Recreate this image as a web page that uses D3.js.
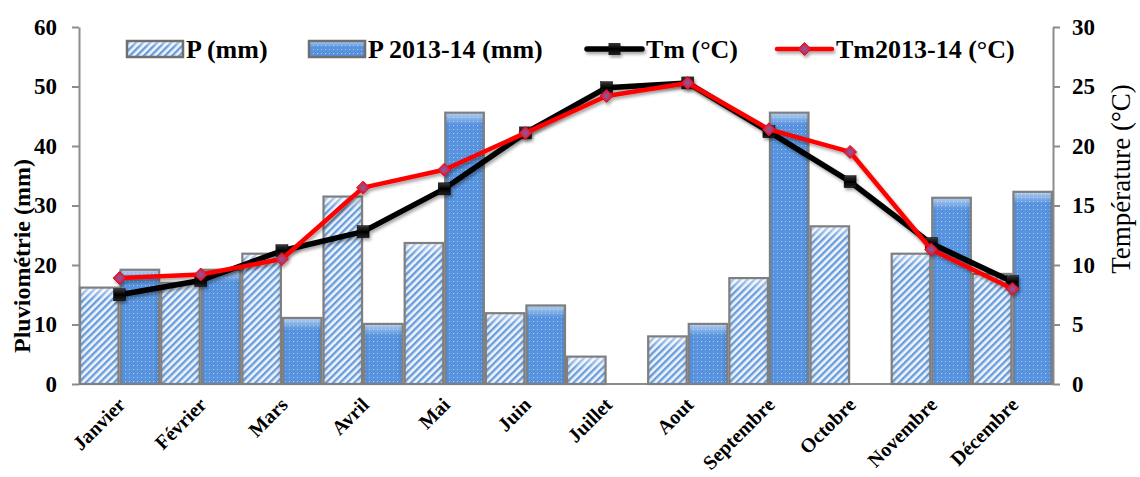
<!DOCTYPE html>
<html><head><meta charset="utf-8">
<script src="https://cdn.jsdelivr.net/npm/d3@7"></script>
<style>
html,body{margin:0;padding:0;background:#fff;}
svg{display:block;}
text{font-family:"Times New Roman","Liberation Serif",serif;}
</style></head><body>
<svg id="chart" width="1140" height="477"></svg>
<script>
const months = ["Janvier","Février","Mars","Avril","Mai","Juin","Juillet","Aout","Septembre","Octobre","Novembre","Décembre"];
const P      = [16.2, 17.0, 21.9, 31.5, 23.7, 11.9, 4.6, 8.0, 17.8, 26.5, 21.9, 18.5];
const P2013  = [19.2, 19.2, 11.1, 10.1, 45.6, 13.2, 0, 10.1, 45.6, 0, 31.3, 32.3];
const Tm     = [7.5, 8.7, 11.2, 12.8, 16.4, 21.1, 24.9, 25.3, 21.2, 17.0, 11.8, 8.6];
const Tm2013 = [8.9, 9.2, 10.5, 16.5, 18.0, 21.1, 24.2, 25.3, 21.4, 19.5, 11.3, 8.0];
const leftTicks = [0,10,20,30,40,50,60];
const rightTicks = [0,5,10,15,20,25,30];
const legendLabels = ["P (mm)","P 2013-14 (mm)","Tm (°C)","Tm2013-14 (°C)"];

const svg = d3.select("#chart");
const L = 79, R = 1053, T = 27, B = 384;
const x = d3.scaleBand().domain(months).range([L, R]).padding(0);
const xs = d3.scaleBand().domain(["P","P2013"]).range([0, x.bandwidth()]).padding(0);
const yL = d3.scaleLinear().domain([0,60]).range([B, T]);
const yR = d3.scaleLinear().domain([0,30]).range([B, T]);

const defs = svg.append("defs");
const hp = defs.append("pattern").attr("id","hatch").attr("patternUnits","userSpaceOnUse")
  .attr("width",5).attr("height",5).attr("patternTransform","rotate(45)");
hp.append("rect").attr("width",5).attr("height",5).attr("fill","#f0f5fc");
hp.append("rect").attr("width",2.4).attr("height",5).attr("fill","#6a9ddb");
const dp = defs.append("pattern").attr("id","dots").attr("patternUnits","userSpaceOnUse")
  .attr("width",4).attr("height",4);
dp.append("rect").attr("width",4).attr("height",4).attr("fill","#5793de");
dp.append("rect").attr("x",1).attr("y",1).attr("width",1).attr("height",1).attr("fill","#abcaf1");
const tg = defs.append("linearGradient").attr("id","topg").attr("x1",0).attr("y1",0).attr("x2",0).attr("y2",1);
tg.append("stop").attr("offset","0%").attr("stop-color","#fff").attr("stop-opacity",0.55);
tg.append("stop").attr("offset","100%").attr("stop-color","#fff").attr("stop-opacity",0);
const sg = defs.append("linearGradient").attr("id","sideg").attr("x1",0).attr("y1",0).attr("x2",1).attr("y2",0);
sg.append("stop").attr("offset","0%").attr("stop-color","#000").attr("stop-opacity",0.08);
sg.append("stop").attr("offset","12%").attr("stop-color","#000").attr("stop-opacity",0);
sg.append("stop").attr("offset","88%").attr("stop-color","#000").attr("stop-opacity",0);
sg.append("stop").attr("offset","100%").attr("stop-color","#000").attr("stop-opacity",0.12);
const rg = defs.append("radialGradient").attr("id","diag");
rg.append("stop").attr("offset","0%").attr("stop-color","#7a5fb0");
rg.append("stop").attr("offset","45%").attr("stop-color","#b83a6a");
rg.append("stop").attr("offset","100%").attr("stop-color","#e8101a");
const qg = defs.append("linearGradient").attr("id","sqg").attr("x1",0).attr("y1",0).attr("x2",0).attr("y2",1);
qg.append("stop").attr("offset","0%").attr("stop-color","#3a3a3a");
qg.append("stop").attr("offset","50%").attr("stop-color","#000");
qg.append("stop").attr("offset","100%").attr("stop-color","#222");
const f = defs.append("filter").attr("id","shadow").attr("x","-10%").attr("y","-10%").attr("width","130%").attr("height","140%");
f.append("feDropShadow").attr("dx",1.5).attr("dy",2.5).attr("stdDeviation",1.6).attr("flood-color","#000").attr("flood-opacity",0.35);

const axisColor = "#8c8c8c";
const gL = svg.append("g").attr("transform",`translate(${L},0)`)
  .call(d3.axisLeft(yL).tickValues(leftTicks).tickSize(7).tickPadding(15).tickSizeOuter(0));
const gR = svg.append("g").attr("transform",`translate(${R},0)`)
  .call(d3.axisRight(yR).tickValues(rightTicks).tickSize(7).tickPadding(12).tickSizeOuter(0));
[gL,gR].forEach(g=>{
  g.select(".domain").attr("stroke",axisColor).attr("stroke-width",2);
  g.selectAll(".tick line").attr("stroke",axisColor).attr("stroke-width",2);
  g.selectAll(".tick text").attr("font-size",23).attr("font-weight","bold").attr("fill","#000")
   .attr("font-family",'"Times New Roman","Liberation Serif",serif');
});
svg.append("line").attr("x1",L).attr("x2",R).attr("y1",B).attr("y2",B).attr("stroke",axisColor).attr("stroke-width",2);

const series = [{key:"P", vals:P, fill:"url(#hatch)"},{key:"P2013", vals:P2013, fill:"url(#dots)"}];
const gb = svg.append("g");
series.forEach(s=>{
  months.forEach((m,i)=>{
    const v = s.vals[i];
    if(!v) return;
    const x0 = x(m)+xs(s.key), w = xs.bandwidth(), y0 = yL(v), h = B - y0;
    const g = gb.append("g");
    g.append("rect").attr("x",x0+1).attr("y",y0).attr("width",w-2).attr("height",h).attr("fill",s.fill);
    g.append("rect").attr("x",x0+1).attr("y",y0).attr("width",w-2).attr("height",h).attr("fill","url(#sideg)");
    g.append("rect").attr("x",x0+1).attr("y",y0).attr("width",w-2).attr("height",Math.min(12,h)).attr("fill","url(#topg)");
    g.append("rect").attr("x",x0+1).attr("y",y0).attr("width",w-2).attr("height",h)
      .attr("fill","none").attr("stroke","#7f7f7f").attr("stroke-width",2.2);
  });
});

const cx = m => x(m) + x.bandwidth()/2;
const line = d3.line().x((d,i)=>cx(months[i])).y(d=>yR(d));
const gl = svg.append("g").attr("filter","url(#shadow)");
gl.append("path").datum(Tm).attr("d",line).attr("fill","none").attr("stroke","#000").attr("stroke-width",5.5).attr("stroke-linejoin","round");
gl.selectAll(".sq").data(Tm).join("rect").attr("class","sq")
  .attr("x",(d,i)=>cx(months[i])-6).attr("y",d=>yR(d)-6).attr("width",12).attr("height",12)
  .attr("fill","url(#sqg)").attr("stroke","#000").attr("stroke-width",0.5);
const gl2 = svg.append("g").attr("filter","url(#shadow)");
gl2.append("path").datum(Tm2013).attr("d",line).attr("fill","none").attr("stroke","#ff0000").attr("stroke-width",4.5).attr("stroke-linejoin","round");
const diamond = (cxv,cyv,r)=>`M${cxv},${cyv-r}L${cxv+r},${cyv}L${cxv},${cyv+r}L${cxv-r},${cyv}Z`;
gl2.selectAll(".dm").data(Tm2013).join("path").attr("class","dm")
  .attr("d",(d,i)=>diamond(cx(months[i]),yR(d),6.5)).attr("fill","url(#diag)").attr("stroke","#e0101a").attr("stroke-width",1);

svg.append("g").selectAll("text").data(months).join("text")
  .attr("transform",m=>`translate(${cx(m)+7},${406}) rotate(-45)`)
  .attr("text-anchor","end").attr("font-size",20).attr("font-weight","bold").attr("fill","#000")
  .text(m=>m);

svg.append("text").attr("transform","translate(30,256) rotate(-90)").attr("text-anchor","middle")
  .attr("font-size",24).attr("font-weight","bold").attr("fill","#000").text("Pluviométrie (mm)");
svg.append("text").attr("transform","translate(1130,179) rotate(-90)").attr("text-anchor","middle")
  .attr("font-size",27).attr("fill","#000").text("Température (°C)");

const lg = svg.append("g");
const legY = 49;
const sw = [{x:127, fill:"url(#hatch)"},{x:309, fill:"url(#dots)"}];
sw.forEach((s,i)=>{
  lg.append("rect").attr("x",s.x).attr("y",legY-8).attr("width",56).attr("height",16).attr("fill",s.fill);
  lg.append("rect").attr("x",s.x).attr("y",legY-8).attr("width",56).attr("height",6).attr("fill","url(#topg)");
  lg.append("rect").attr("x",s.x).attr("y",legY-8).attr("width",56).attr("height",16).attr("fill","none").attr("stroke","#6f6f6f").attr("stroke-width",2.5);
  lg.append("text").attr("x",s.x+59).attr("y",legY+9).attr("font-size",26).attr("font-weight","bold").attr("fill","#000").text(legendLabels[i]);
});
const ll = [{x:587, color:"#000", w:5.5, mk:"sq"},{x:777, color:"#ff0000", w:4.5, mk:"dm"}];
ll.forEach((s,i)=>{
  const g = lg.append("g").attr("filter","url(#shadow)");
  g.append("line").attr("x1",s.x).attr("x2",s.x+55).attr("y1",legY).attr("y2",legY).attr("stroke",s.color).attr("stroke-width",s.w).attr("stroke-linecap","round");
  if(s.mk==="sq") g.append("rect").attr("x",s.x+27.5-6).attr("y",legY-6).attr("width",12).attr("height",12).attr("fill","url(#sqg)");
  else g.append("path").attr("d",diamond(s.x+27.5,legY,6.5)).attr("fill","url(#diag)").attr("stroke","#e0101a");
  lg.append("text").attr("x",s.x+59).attr("y",legY+9).attr("font-size",26).attr("font-weight","bold").attr("fill","#000").text(legendLabels[i+2]);
});
</script>
</body></html>
